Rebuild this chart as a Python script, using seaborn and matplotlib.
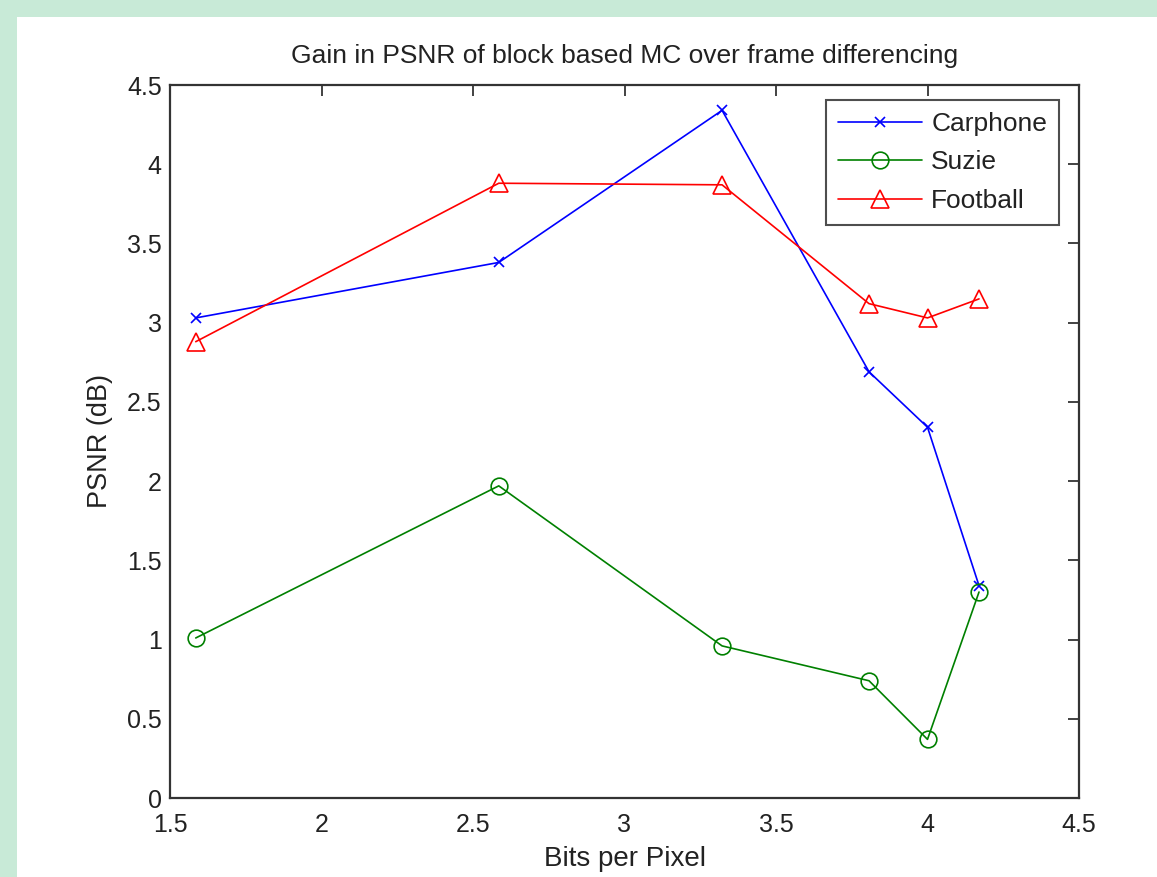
import matplotlib
matplotlib.use("Agg")
import matplotlib.pyplot as plt
import seaborn as sns
import pandas as pd
from matplotlib.patches import Rectangle

bits = [1.585, 2.585, 3.322, 3.807, 4.0, 4.17]
carphone = [3.03, 3.38, 4.34, 2.69, 2.34, 1.34]
suzie = [1.01, 1.97, 0.96, 0.74, 0.37, 1.30]
football = [2.88, 3.88, 3.87, 3.12, 3.03, 3.15]
x_ticks = [1.5, 2, 2.5, 3, 3.5, 4, 4.5]
y_ticks = [0, 0.5, 1, 1.5, 2, 2.5, 3, 3.5, 4, 4.5]

sns.set_theme(style="white")
plt.rcParams['font.family'] = ['Liberation Sans', 'DejaVu Sans']

W, H = 1157, 877
fig = plt.figure(figsize=(W / 100, H / 100), dpi=100)
fig.patch.set_facecolor("white")
mint = "#C8EAD7"
fig.patches.append(Rectangle((0, 1 - 17 / H), 1, 17 / H, transform=fig.transFigure,
                             facecolor=mint, edgecolor="none", zorder=-10))
fig.patches.append(Rectangle((0, 0), 17 / W, 1, transform=fig.transFigure,
                             facecolor=mint, edgecolor="none", zorder=-10))
ax = fig.add_axes([170 / W, 1 - 798 / H, (1079 - 170) / W, (798 - 85) / H])
ax.set_facecolor("white")

series = [
    ("Carphone", carphone, "#0000FF", "x", 7),
    ("Suzie", suzie, "#008000", "o", 12),
    ("Football", football, "#FF0000", "^", 13),
]
for name, vals, color, marker, ms in series:
    df = pd.DataFrame({"bits": bits, "psnr": vals})
    sns.lineplot(data=df, x="bits", y="psnr", ax=ax, color=color, marker=marker,
                 markersize=ms, markerfacecolor="none", markeredgecolor=color,
                 markeredgewidth=1.2, linewidth=1.2, label=name, sort=False)

ax.set_xlim(1.5, 4.5)
ax.set_ylim(0, 4.5)
ax.set_xticks(x_ticks)
ax.set_xticklabels([f"{t:g}" for t in x_ticks])
ax.set_yticks(y_ticks)
ax.set_yticklabels([f"{t:g}" for t in y_ticks])
ax.tick_params(direction="in", length=8, width=1.2, top=True, right=True,
               labelsize=18, colors="#222222", pad=6)
ax.tick_params(axis="x", pad=11)
for s in ax.spines.values():
    s.set_color("#333333")
    s.set_linewidth(1.6)

ax.set_title("Gain in PSNR of block based MC over frame differencing", fontsize=19,
             color="#222222", pad=16)
ax.set_xlabel("Bits per Pixel", fontsize=20, color="#222222", labelpad=6)
ax.set_ylabel("PSNR (dB)", fontsize=19.5, color="#222222", labelpad=10)

leg = ax.legend(loc="upper right", bbox_to_anchor=(0.978, 0.979), fontsize=19,
                frameon=True, fancybox=False, borderaxespad=0.0, handlelength=3.2,
                labelspacing=0.55, borderpad=0.45, handletextpad=0.35)
leg.get_frame().set_edgecolor("#222222")
leg.get_frame().set_linewidth(1.5)
for t in leg.get_texts():
    t.set_color("#222222")

fig.savefig("out.png", dpi=100, facecolor=fig.get_facecolor())
